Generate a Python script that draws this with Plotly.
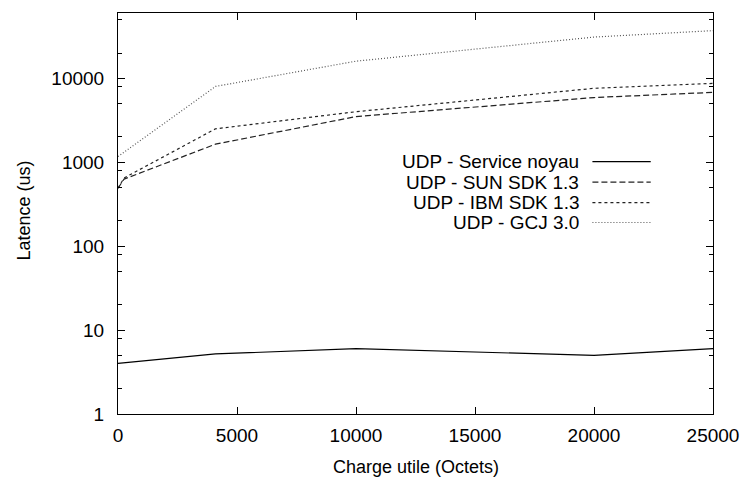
import numpy as np
import plotly.graph_objects as go

# Payload sizes (bytes)
x_kernel = [0, 4096, 10000, 20000, 25000]
x_java = [0, 256, 4096, 10000, 20000, 25000]

# Latencies (microseconds)
lat_kernel = [4.0, 5.2, 6.0, 5.0, 6.0]
lat_sun = [490, 630, 1640, 3500, 5900, 6800]
lat_ibm = [490, 650, 2500, 4000, 7600, 8700]
lat_gcj = [1170, 8000, 16000, 31000, 37000]

labels = ["UDP - Service noyau", "UDP - SUN SDK 1.3", "UDP - IBM SDK 1.3", "UDP - GCJ 3.0"]
x_ticks = [0, 5000, 10000, 15000, 20000, 25000]
y_ticks = [1, 10, 100, 1000, 10000]

FONT = "Liberation Sans, Arial, Helvetica, sans-serif"
W, H = 751, 483
L, R, T, B = 118, 720, 12, 414  # plot frame in pixels

series = [
    (x_kernel, lat_kernel, dict(color="black", width=1.2, dash="solid")),
    (x_java, lat_sun, dict(color="#222222", width=1.2, dash="6px,3px")),
    (x_java, lat_ibm, dict(color="#222222", width=1.2, dash="3px,3px")),
    (x_kernel, lat_gcj, dict(color="#555555", width=1.2, dash="1px,2px")),
]

fig = go.Figure()
for (xs, ys, line), name in zip(series, labels):
    fig.add_trace(go.Scatter(x=xs, y=ys, mode="lines", name=name, line=line,
                             showlegend=False, hoverinfo="skip"))

minor_vals = [m * 10 ** d for d in range(0, 5) for m in (2, 5, 8)]

fig.update_layout(
    width=W, height=H,
    margin=dict(l=L, r=W - R, t=T, b=H - B, pad=0),
    paper_bgcolor="white", plot_bgcolor="white",
    font=dict(family=FONT, size=19, color="black"),
    xaxis=dict(
        range=[0, 25000], tickvals=x_ticks, ticktext=[str(v) for v in x_ticks],
        ticks="inside", ticklen=7, tickwidth=1, tickcolor="black",
        showline=True, linecolor="black", linewidth=1, mirror="ticks",
        showgrid=False, zeroline=False,
        tickfont=dict(size=19), ticklabelstandoff=4,
    ),
    yaxis=dict(
        type="log", range=[0, np.log10(60000)],
        tickvals=y_ticks, ticktext=[str(v) for v in y_ticks],
        ticks="inside", ticklen=7, tickwidth=1, tickcolor="black",
        showline=True, linecolor="black", linewidth=1, mirror="ticks",
        showgrid=False, zeroline=False,
        tickfont=dict(size=19), ticklabelstandoff=9,
        minor=dict(tickvals=minor_vals, ticks="inside", ticklen=4,
                   tickcolor="black", tickwidth=1, showgrid=False),
    ),
)


def px_to_paper(px, py):
    return (px - L) / (R - L), (B - py) / (B - T)


# Axis titles
tx, ty = px_to_paper(419, 467)
fig.add_annotation(x=tx, y=ty, xref="paper", yref="paper", text="Charge utile (Octets)",
                   showarrow=False, xanchor="center", yanchor="middle",
                   font=dict(size=18, family=FONT, color="black"))
tx, ty = px_to_paper(22, 210)
fig.add_annotation(x=tx, y=ty, xref="paper", yref="paper", text="Latence (us)",
                   showarrow=False, xanchor="center", yanchor="middle", textangle=-90,
                   font=dict(size=18, family=FONT, color="black"))

# Key: right-aligned labels with line samples to their right
key_rows = [161, 181.5, 202, 222]
text_right, sample_l, sample_r = 585, 598, 657
for (xs, ys, line), name, ry in zip(series, labels, key_rows):
    tx, ty = px_to_paper(text_right, ry)
    fig.add_annotation(x=tx, y=ty, xref="paper", yref="paper", text=name,
                       showarrow=False, xanchor="right", yanchor="middle",
                       borderpad=0,
                       font=dict(size=19, family=FONT, color="black"))
    x0, y0 = px_to_paper(sample_l, ry)
    x1, _ = px_to_paper(sample_r, ry)
    fig.add_shape(type="line", xref="paper", yref="paper", x0=x0, x1=x1, y0=y0, y1=y0,
                  line=line)

fig.write_html("out.html")
